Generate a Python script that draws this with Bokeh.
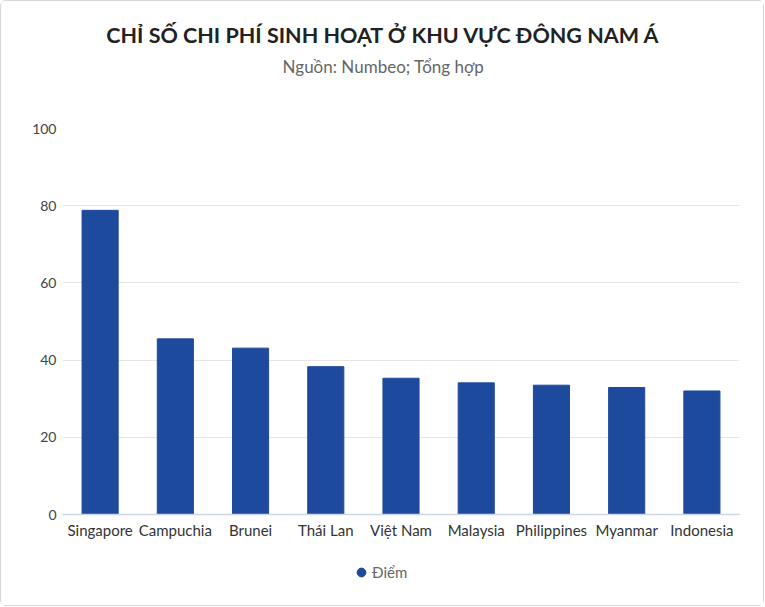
from bokeh.plotting import figure
from bokeh.layouts import column
from bokeh.models import Label, Legend, LegendItem, FixedTicker, Range1d
from bokeh.embed import file_html
from bokeh.resources import INLINE

countries = ["Singapore", "Campuchia", "Brunei", "Thái Lan", "Việt Nam",
             "Malaysia", "Philippines", "Myanmar", "Indonesia"]
scores = [78.8, 45.5, 43.1, 38.3, 35.3, 34.1, 33.5, 32.9, 32.0]
y_ticks = [0, 20, 40, 60, 80, 100]
series_name = "Điểm"
title_text = "CHỈ SỐ CHI PHÍ SINH HOẠT Ở KHU VỰC ĐÔNG NAM Á"
subtitle_text = "Nguồn: Numbeo; Tổng hợp"

FONT = "Lato"
BAR = "#1e4a9d"
W = 762

# ---- title strip
tt = figure(width=W, height=88, output_backend="svg", toolbar_location=None,
            x_range=Range1d(0, 1), y_range=Range1d(0, 1),
            min_border=0, outline_line_color=None)
tt.axis.visible = False
tt.grid.visible = False
tt.add_layout(Label(x=321, y=55, x_units="screen", y_units="screen",
                    text=title_text, text_font=FONT, text_font_size="21.5px",
                    text_font_style="bold", text_color="#222222",
                    text_align="center", text_baseline="middle"))
tt.add_layout(Label(x=321, y=23, x_units="screen", y_units="screen",
                    text=subtitle_text, text_font=FONT, text_font_size="17px",
                    text_color="#666666",
                    text_align="center", text_baseline="middle"))

# ---- main chart
p = figure(x_range=countries, y_range=Range1d(0, 100), width=W, height=460,
           output_backend="svg", toolbar_location=None,
           min_border_left=61, min_border_right=24, min_border_top=39,
           min_border_bottom=35)
p.outline_line_color = None
p.background_fill_color = "white"
p.border_fill_color = "white"

bars = p.vbar(x=countries, top=scores, width=0.48, color=BAR)

p.xgrid.grid_line_color = None
p.ygrid.grid_line_color = "#e6e6e6"
p.ygrid.ticker = FixedTicker(ticks=y_ticks)

p.yaxis.ticker = FixedTicker(ticks=y_ticks)
p.yaxis.axis_line_color = None
p.yaxis.major_tick_line_color = None
p.yaxis.minor_tick_line_color = None
p.yaxis.major_label_text_font = FONT
p.yaxis.major_label_text_font_size = "14px"
p.yaxis.major_label_text_color = "#444444"
p.yaxis.major_label_standoff = 0

p.xaxis.axis_line_color = "#ccd6eb"
p.xaxis.axis_line_width = 1.5
p.xaxis.major_tick_line_color = None
p.xaxis.minor_tick_line_color = None
p.xaxis.major_label_text_font = FONT
p.xaxis.major_label_text_font_size = "15px"
p.xaxis.major_label_text_color = "#333333"
p.xaxis.major_label_standoff = 0
p.x_range.range_padding = 0.0

# ---- legend strip
lg = figure(width=W, height=56, output_backend="svg", toolbar_location=None,
            x_range=Range1d(0, 1), y_range=Range1d(0, 1),
            min_border=0, outline_line_color=None)
lg.axis.visible = False
lg.grid.visible = False
dummy = lg.scatter(x=[-1], y=[-1], marker="circle", size=12, color=BAR)
legend = Legend(items=[LegendItem(label=series_name, renderers=[dummy])],
                orientation="horizontal", location=(288, 22),
                label_text_font=FONT, label_text_font_size="15px",
                label_text_color="#666666", border_line_color=None,
                background_fill_alpha=0, glyph_width=22, glyph_height=22,
                label_standoff=0, padding=0, margin=0)
lg.add_layout(legend)

layout = column(tt, p, lg, spacing=0,
                styles={"border": "1px solid #d6d6d6", "border-radius": "6px"})
open("out.html", "w").write(file_html(layout, INLINE))
